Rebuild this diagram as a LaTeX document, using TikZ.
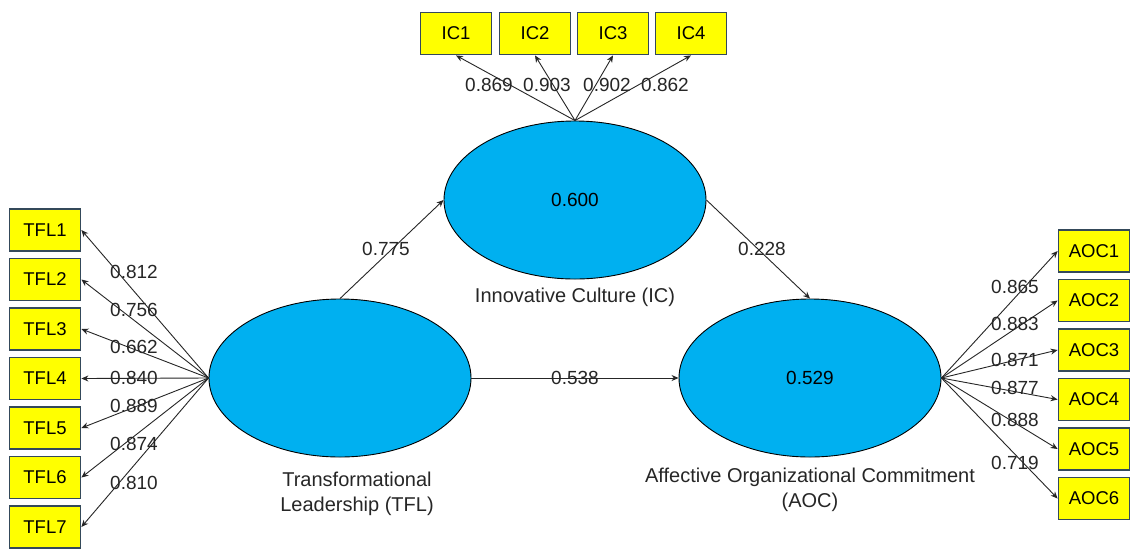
\documentclass[tikz,border=0pt]{standalone}
\usepackage{fontspec}
\setmainfont{Liberation Sans}
\usetikzlibrary{shapes.geometric,arrows.meta}
\definecolor{boxyellow}{HTML}{FFFF00}
\definecolor{boxborder}{HTML}{34495A}
\definecolor{latentblue}{HTML}{00B0F0}
\definecolor{txt}{HTML}{262626}
\tikzset{
  item/.style={draw=boxborder, line width=1.8pt, fill=boxyellow, minimum width=71pt, minimum height=42pt, inner sep=0pt, font=\fontsize{18.5}{20}\selectfont, text=black},
  latent/.style={ellipse, draw=black, line width=0.9pt, fill=latentblue, minimum width=262pt, minimum height=158pt, inner sep=0pt, font=\fontsize{19}{21}\selectfont, text=black},
  conn/.style={draw=black!85, line width=0.9pt, -{Stealth[length=7pt,width=6pt]}},
  coef/.style={font=\fontsize{19}{21}\selectfont, text=txt, inner sep=0pt},
  lname/.style={font=\fontsize{20}{25}\selectfont, text=txt, align=center, inner sep=0pt}
}
\begin{document}
\begin{tikzpicture}[x=1pt,y=-1pt]
\useasboundingbox (0,0) rectangle (1132,550);
\fill[white] (0,0) rectangle (1132,550);
% latent variables
\node[latent] (ic) at (575,200) {0.600};
\node[latent] (tfl) at (340,378) {};
\node[latent] (aoc) at (810,378) {0.529};
\node[lname] (icl) at (575,297) {Innovative Culture (IC)};
\node[lname] (tfll) at (357,494) {Transformational\\Leadership (TFL)};
\node[lname] (aocl) at (810,490) {Affective Organizational Commitment\\(AOC)};
% IC indicators
\foreach \i/\x in {1/456,2/535,3/613,4/691}{
  \node[item] (ic\i) at (\x,33.5) {IC\i};
  \draw[conn] (ic.north) -- (ic\i.south);
}
% TFL indicators
\foreach \i/\y in {1/230,2/279.5,3/329,4/378.5,5/428,6/477.5,7/527}{
  \node[item] (tfl\i) at (45,\y) {TFL\i};
  \draw[conn] (tfl.west) -- (tfl\i.east);
}
% AOC indicators
\foreach \i/\y in {1/251,2/300.5,3/350,4/399.5,5/449,6/498.5}{
  \node[item] (aoc\i) at (1094,\y) {AOC\i};
  \draw[conn] (aoc.east) -- (aoc\i.west);
}
% structural paths
\draw[conn] (tfl.north) -- (ic.west);
\draw[conn] (ic.east) -- (aoc.north);
\draw[conn] (tfl.east) -- (aoc.west);
% coefficients
\node[coef] (c1) at (386,249) {0.775};
\node[coef] (c2) at (762,249) {0.228};
\node[coef] (c3) at (575,378) {0.538};
\foreach \v/\x [count=\k] in {0.869/489,0.903/547,0.902/607,0.862/665}{
  \node[coef] (ica\k) at (\x,85) {\v};
}
\foreach \v/\y [count=\k] in {0.812/272,0.756/310,0.662/347,0.840/378,0.889/406,0.874/444,0.810/483}{
  \node[coef] (tfla\k) at (134,\y) {\v};
}
\foreach \v/\y [count=\k] in {0.865/287,0.883/324,0.871/360,0.877/388,0.888/420,0.719/463}{
  \node[coef] (aoca\k) at (1015,\y) {\v};
}
\end{tikzpicture}
\end{document}
